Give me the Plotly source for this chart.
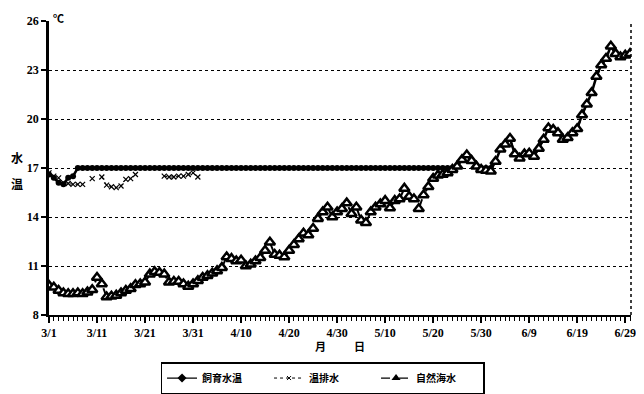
import plotly.graph_objects as go

# day index 0 = 3/1, 121 = 6/30
tick_days = [0, 10, 20, 30, 40, 50, 60, 70, 80, 90, 100, 110, 120]
tick_labels = ["3/1", "3/11", "3/21", "3/31", "4/10", "4/20", "4/30",
               "5/10", "5/20", "5/30", "6/9", "6/19", "6/29"]
y_ticks = [8, 11, 14, 17, 20, 23, 26]

natural_sea = [
    9.8, 9.7, 9.5, 9.35, 9.3, 9.3, 9.35, 9.3, 9.4, 9.55,
    10.3, 9.9, 9.1, 9.15, 9.2, 9.35, 9.5, 9.6, 9.85, 9.9,
    10.0, 10.5, 10.65, 10.6, 10.5, 10.0, 10.05, 10.05, 9.9, 9.75,
    9.9, 10.1, 10.3, 10.4, 10.55, 10.7, 10.9, 11.55, 11.45, 11.3,
    11.35, 11.0, 11.1, 11.3, 11.5, 11.95, 12.45, 11.7, 11.65, 11.55,
    11.95, 12.3, 12.65, 13.0, 12.9, 13.3, 13.9, 14.3, 14.6, 14.0,
    14.3, 14.5, 14.85, 14.2, 14.6, 13.8, 13.65, 14.3, 14.6, 14.8,
    15.0, 14.55, 15.0, 15.1, 15.75, 15.25, 15.1, 14.5, 15.35, 15.85,
    16.35, 16.55, 16.6, 16.7, 16.9, 17.1, 17.5, 17.8, 17.45, 17.1,
    16.9, 16.85, 16.8, 17.4, 18.15, 18.45, 18.8, 17.85, 17.6, 17.85,
    17.9, 17.7, 18.2, 18.75, 19.45, 19.35, 19.15, 18.75, 18.85, 19.15,
    19.4, 20.25, 20.9, 21.6, 22.6, 23.3, 23.7, 24.45, 24.0, 23.8,
    23.9, 24.0,
]

rearing = [
    16.6, 16.4, 16.1, 16.0, 16.4, 16.5, 17.0, 17.0, 17.0, 17.0,
    17.0, 17.0, 17.0, 17.0, 17.0, 17.0, 17.0, 17.0, 17.0, 17.0,
    17.0, 17.0, 17.0, 17.0, 17.0, 17.0, 17.0, 17.0, 17.0, 17.0,
    17.0, 17.0, 17.0, 17.0, 17.0, 17.0, 17.0, 17.0, 17.0, 17.0,
    17.0, 17.0, 17.0, 17.0, 17.0, 17.0, 17.0, 17.0, 17.0, 17.0,
    17.0, 17.0, 17.0, 17.0, 17.0, 17.0, 17.0, 17.0, 17.0, 17.0,
    17.0, 17.0, 17.0, 17.0, 17.0, 17.0, 17.0, 17.0, 17.0, 17.0,
    17.0, 17.0, 17.0, 17.0, 17.0, 17.0, 17.0, 17.0, 17.0, 17.0,
    17.0, 17.0, 17.0, 17.0, 17.0, 17.1, 17.5, 17.8, 17.45, 17.1,
    17.0, 17.0, 17.0, 17.4, 18.15, 18.45, 18.8, 17.85, 17.6, 17.85,
    17.9, 17.7, 18.2, 18.75, 19.45, 19.35, 19.15, 18.75, 18.85, 19.15,
    19.4, 20.25, 20.9, 21.6, 22.6, 23.3, 23.7, 24.45, 24.0, 23.8,
    23.9, 24.0,
]

warm_discharge = [
    16.7, 16.5, 16.4, 16.1, 16.05, 16.0, 16.0, 16.0, None, 16.35,
    None, 16.45, 15.95, 15.85, 15.8, 15.9, 16.3, 16.35, 16.6, None,
    None, None, None, None, 16.5, 16.45, 16.45, 16.5, 16.5, 16.6,
    16.7, 16.45,
]

series_names = ["飼育水温", "温排水", "自然海水"]

days_all = list(range(len(natural_sea)))
days_warm = list(range(len(warm_discharge)))

fig = go.Figure()
fig.add_trace(go.Scatter(
    x=days_all, y=rearing, name=series_names[0], mode="lines+markers",
    showlegend=False,
    line=dict(color="black", width=2.5),
    marker=dict(symbol="circle", size=6, color="black"),
))
fig.add_trace(go.Scatter(
    x=days_warm, y=warm_discharge, name=series_names[1], mode="lines+markers",
    connectgaps=False, showlegend=False,
    line=dict(color="black", width=1, dash="dot"),
    marker=dict(symbol="x-thin", size=5, line=dict(color="black", width=1.2)),
))
fig.add_trace(go.Scatter(
    x=days_all, y=natural_sea, name=series_names[2], mode="lines+markers",
    showlegend=False,
    line=dict(color="black", width=2, dash="dash"),
    marker=dict(symbol="triangle-up", size=9, color="white",
                line=dict(color="black", width=2.5)),
))

# legend-only entries (styled like the reference legend)
fig.add_trace(go.Scatter(
    x=[None], y=[None], name=series_names[0], mode="lines+markers",
    line=dict(color="black", width=1.2),
    marker=dict(symbol="diamond", size=7, color="black"),
))
fig.add_trace(go.Scatter(
    x=[None], y=[None], name=series_names[1], mode="lines+markers",
    line=dict(color="black", width=1, dash="dot"),
    marker=dict(symbol="x-thin", size=4, line=dict(color="black", width=1)),
))
fig.add_trace(go.Scatter(
    x=[None], y=[None], name=series_names[2], mode="lines+markers",
    line=dict(color="black", width=1.2, dash="dash"),
    marker=dict(symbol="triangle-up", size=8, color="black"),
))

tickfont = dict(family="Liberation Serif", size=12, color="black", weight="bold")
anno_font = dict(family="Noto Sans CJK JP", size=12, color="black", weight="bold")

# page body adds an 8px margin, so the figure is sized to fit the 644x394 window
fig.update_layout(
    width=636, height=386,
    margin=dict(l=41, r=13, t=13, b=79, autoexpand=False),
    paper_bgcolor="white", plot_bgcolor="white",
    showlegend=True,
    legend=dict(
        orientation="h", x=0.47, xanchor="center", y=-0.16, yanchor="top",
        bordercolor="black", borderwidth=1.5,
        font=dict(family="Noto Sans CJK JP", size=10, color="black", weight="bold"),
        entrywidth=62, entrywidthmode="pixels", tracegroupgap=0,
    ),
    xaxis=dict(
        range=[0, 121.2], tickmode="array", tickvals=tick_days, ticktext=tick_labels,
        showgrid=False, zeroline=False,
        showline=True, linecolor="black", linewidth=2,
        ticks="outside", ticklen=6, tickwidth=1.5, tickcolor="black",
        tickfont=tickfont,
        minor=dict(tick0=0, dtick=1, ticks="outside", ticklen=4, tickwidth=1, tickcolor="black"),
    ),
    yaxis=dict(
        range=[8, 26], tickmode="array", tickvals=y_ticks,
        showgrid=True, gridcolor="black", gridwidth=1, griddash="dot",
        zeroline=False,
        showline=True, linecolor="black", linewidth=2.5,
        ticks="outside", ticklen=5, tickwidth=1.5, tickcolor="black",
        tickfont=tickfont,
    ),
    shapes=[dict(type="line", xref="paper", yref="paper", x0=1, x1=1, y0=0, y1=1,
                 line=dict(color="black", width=1.5, dash="dot"))],
    annotations=[
        dict(text="℃", xref="paper", yref="paper", x=0.017, y=1.044,
             xanchor="center", yanchor="top", showarrow=False,
             font=dict(family="Noto Sans CJK JP", size=11, color="black", weight="bold")),
        dict(text="水", xref="paper", yref="paper", x=-0.055, y=0.537,
             xanchor="center", yanchor="middle", showarrow=False, font=anno_font),
        dict(text="温", xref="paper", yref="paper", x=-0.055, y=0.446,
             xanchor="center", yanchor="middle", showarrow=False, font=anno_font),
        dict(text="月", xref="paper", yref="paper", x=0.466, y=-0.105,
             xanchor="center", yanchor="middle", showarrow=False,
             font=dict(family="Noto Sans CJK JP", size=11, color="black", weight="bold")),
        dict(text="日", xref="paper", yref="paper", x=0.534, y=-0.105,
             xanchor="center", yanchor="middle", showarrow=False,
             font=dict(family="Noto Sans CJK JP", size=11, color="black", weight="bold")),
    ],
)

fig.write_html("out.html")
